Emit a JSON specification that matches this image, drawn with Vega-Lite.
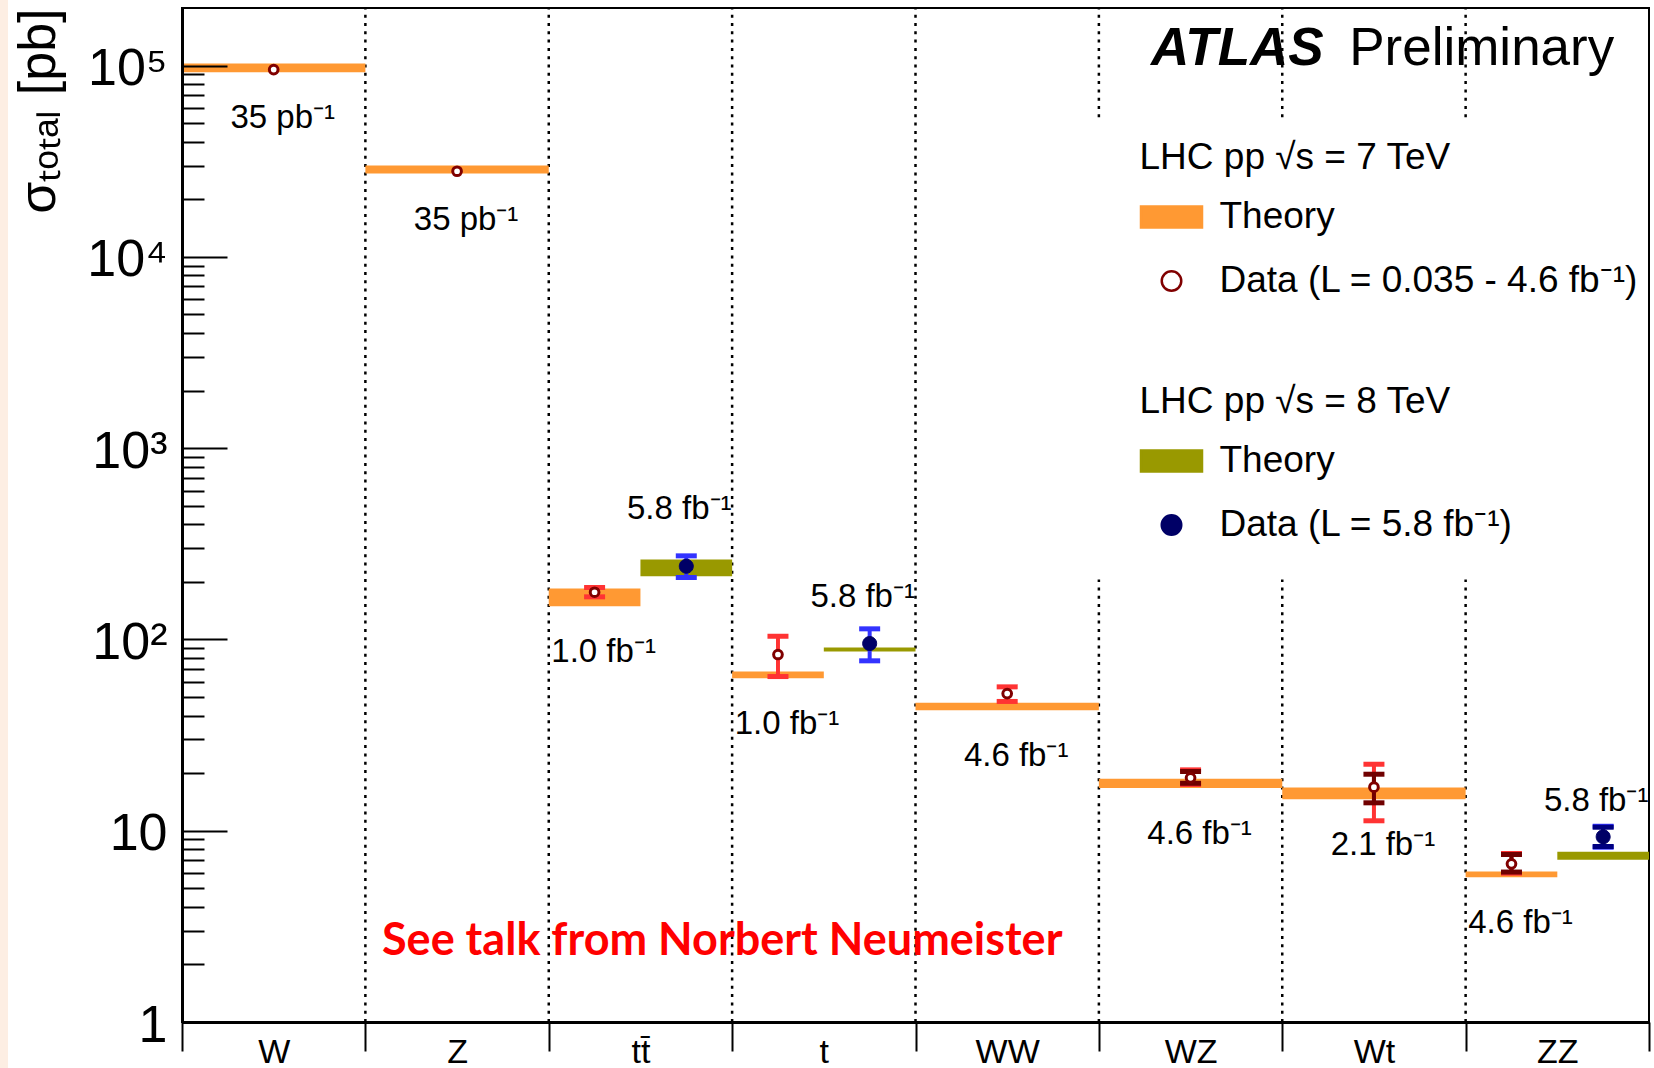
{
  "$schema": "https://vega.github.io/schema/vega-lite/v6.json",
  "width": 1467,
  "height": 1014,
  "autosize": {"type": "none"},
  "padding": {"left": 182, "top": 8, "right": 5, "bottom": 46},
  "background": "white",
  "datasets": {
    "xs": [
      {"proc": "W", "E": 7, "b0": 0, "b1": 1, "bc": 0.5, "th_lo": 92300, "th_hi": 102400, "val": 95300, "stat_lo": null, "stat_hi": null, "tot_lo": null, "tot_hi": null, "lumi": "35 pb⁻¹"},
      {"proc": "Z", "E": 7, "b0": 1, "b1": 2, "bc": 1.5, "th_lo": 27260, "th_hi": 30000, "val": 28030, "stat_lo": null, "stat_hi": null, "tot_lo": null, "tot_hi": null, "lumi": "35 pb⁻¹"},
      {"proc": "tt", "E": 7, "b0": 2, "b1": 2.5, "bc": 2.25, "th_lo": 149.1, "th_hi": 184.5, "val": 176.5, "stat_lo": null, "stat_hi": null, "tot_lo": 167, "tot_hi": 186.8, "lumi": "1.0 fb⁻¹"},
      {"proc": "tt", "E": 8, "b0": 2.5, "b1": 3, "bc": 2.75, "th_lo": 214, "th_hi": 261.7, "val": 241.4, "stat_lo": null, "stat_hi": null, "tot_lo": 210.7, "tot_hi": 273.5, "lumi": "5.8 fb⁻¹"},
      {"proc": "t", "E": 7, "b0": 3, "b1": 3.5, "bc": 3.25, "th_lo": 62.7, "th_hi": 68.0, "val": 83.4, "stat_lo": null, "stat_hi": null, "tot_lo": 63.97, "tot_hi": 103.9, "lumi": "1.0 fb⁻¹"},
      {"proc": "t", "E": 8, "b0": 3.5, "b1": 4, "bc": 3.75, "th_lo": 86.5, "th_hi": 90.7, "val": 95.2, "stat_lo": null, "stat_hi": null, "tot_lo": 77.3, "tot_hi": 113.6, "lumi": "5.8 fb⁻¹"},
      {"proc": "WW", "E": 7, "b0": 4, "b1": 5, "bc": 4.5, "th_lo": 42.7, "th_hi": 46.6, "val": 52.1, "stat_lo": null, "stat_hi": null, "tot_lo": 47.4, "tot_hi": 56.5, "lumi": "4.6 fb⁻¹"},
      {"proc": "WZ", "E": 7, "b0": 5, "b1": 6, "bc": 5.5, "th_lo": 16.7, "th_hi": 18.7, "val": 18.9, "stat_lo": 17.7, "stat_hi": 20.4, "tot_lo": 17.45, "tot_hi": 20.8, "lumi": "4.6 fb⁻¹"},
      {"proc": "Wt", "E": 7, "b0": 6, "b1": 7, "bc": 6.5, "th_lo": 14.6, "th_hi": 16.8, "val": 16.88, "stat_lo": 13.99, "stat_hi": 19.74, "tot_lo": 11.27, "tot_hi": 22.26, "lumi": "2.1 fb⁻¹"},
      {"proc": "ZZ", "E": 7, "b0": 7, "b1": 7.5, "bc": 7.25, "th_lo": 5.71, "th_hi": 6.12, "val": 6.71, "stat_lo": 6.08, "stat_hi": 7.51, "tot_lo": 6.0, "tot_hi": 7.6, "lumi": "4.6 fb⁻¹"},
      {"proc": "ZZ", "E": 8, "b0": 7.5, "b1": 8, "bc": 7.75, "th_lo": 7.05, "th_hi": 7.76, "val": 9.29, "stat_lo": 8.27, "stat_hi": 10.43, "tot_lo": 8.2, "tot_hi": 10.55, "lumi": "5.8 fb⁻¹"}
    ],
    "dividers": [{"d": 1}, {"d": 2}, {"d": 3}, {"d": 4}, {"d": 5}, {"d": 6}, {"d": 7}]
  },
  "data": {"name": "xs"},
  "layer": [
    {
      "data": {"values": [{}]},
      "mark": {"type": "rect", "fill": "#fdeee3"},
      "encoding": {
        "x": {"datum": -0.9925, "type": "quantitative"},
        "x2": {"datum": -0.9489},
        "y": {"datum": 0.5, "type": "quantitative"},
        "y2": {"datum": 250000}
      }
    },
    {
      "data": {"name": "dividers"},
      "mark": {"type": "rule", "stroke": "black", "strokeWidth": 2.5, "strokeDash": [3, 5.3]},
      "encoding": {
        "x": {"field": "d", "type": "quantitative"},
        "y": {"datum": 1, "type": "quantitative"},
        "y2": {"datum": 200000}
      }
    },
    {
      "data": {"values": [{}]},
      "mark": {"type": "rect", "fill": "white"},
      "encoding": {
        "x": {"datum": 4.95, "type": "quantitative"},
        "x2": {"datum": 7.99},
        "y": {"datum": 206, "type": "quantitative"},
        "y2": {"datum": 52900}
      }
    },
    {
      "mark": {"type": "rect"},
      "encoding": {
        "x": {
          "field": "b0", "type": "quantitative",
          "scale": {"domain": [0, 8], "nice": false, "zero": false},
          "axis": {
            "values": [0, 1, 2, 3, 4, 5, 6, 7, 8],
            "labelExpr": "datum.value < 8 ? ['W','Z','tt̄','t','WW','WZ','Wt','ZZ'][datum.value] : ''",
            "labelOffset": 91.7,
            "tickSize": 29, "tickWidth": 2, "tickColor": "black",
            "domain": true, "domainColor": "black", "domainWidth": 3,
            "labelFont": "Liberation Sans", "labelFontSize": 34, "labelColor": "black",
            "labelPadding": -16, "labelBaseline": "top", "labelAlign": "center",
            "labelFlush": false, "labelOverlap": false, "labelBound": false,
            "grid": false, "title": null, "zindex": 1
          }
        },
        "x2": {"field": "b1"},
        "y": {
          "field": "th_lo", "type": "quantitative",
          "scale": {"type": "log", "domain": [1, 200000], "nice": false},
          "axis": {
            "values": [1, 2, 3, 4, 5, 6, 7, 8, 9, 10, 20, 30, 40, 50, 60, 70, 80, 90, 100, 200, 300, 400, 500, 600, 700, 800, 900, 1000, 2000, 3000, 4000, 5000, 6000, 7000, 8000, 9000, 10000, 20000, 30000, 40000, 50000, 60000, 70000, 80000, 90000, 100000],
            "labelExpr": "datum.value == 1 ? '1' : datum.value == 10 ? '10' : datum.value == 100 ? '10²' : datum.value == 1000 ? '10³' : datum.value == 10000 ? '10⁴' : datum.value == 100000 ? '10⁵' : ''",
            "tickSize": {"condition": {"test": "datum.value == 1 || datum.value == 10 || datum.value == 100 || datum.value == 1000 || datum.value == 10000 || datum.value == 100000", "value": -45}, "value": -22},
            "tickWidth": 2, "tickColor": "black",
            "labelPadding": 60, "labelOffset": 3,
            "labelFont": "Liberation Sans", "labelFontSize": 52, "labelColor": "black",
            "labelBaseline": "middle", "labelAlign": "right",
            "labelFlush": false, "labelOverlap": false, "labelBound": false,
            "domain": true, "domainColor": "black", "domainWidth": 3,
            "grid": false, "zindex": 1,
            "title": "σₜₒₜₐₗ [pb]",
            "titleFont": "Liberation Sans", "titleFontSize": 52, "titleFontWeight": "normal", "titleColor": "black",
            "titleX": -128, "titleY": 0, "titleAlign": "right", "titleAngle": -90, "titleBaseline": "alphabetic"
          }
        },
        "y2": {"field": "th_hi"},
        "fill": {"condition": {"test": "datum.E == 8", "value": "#999900"}, "value": "#ff9933"}
      }
    },
    {
      "transform": [{"filter": "isValid(datum.tot_lo)"}],
      "mark": {"type": "rule", "strokeWidth": 4},
      "encoding": {
        "x": {"field": "bc", "type": "quantitative"},
        "y": {"field": "tot_lo", "type": "quantitative"},
        "y2": {"field": "tot_hi"},
        "color": {"condition": {"test": "datum.E == 8", "value": "#3333ff"}, "value": "#ff3333"}
      }
    },
    {
      "transform": [{"filter": "isValid(datum.tot_lo)"}],
      "mark": {"type": "tick", "orient": "horizontal", "size": 21, "thickness": 5, "opacity": 1},
      "encoding": {
        "x": {"field": "bc", "type": "quantitative"},
        "y": {"field": "tot_lo", "type": "quantitative"},
        "color": {"condition": {"test": "datum.E == 8", "value": "#3333ff"}, "value": "#ff3333"}
      }
    },
    {
      "transform": [{"filter": "isValid(datum.tot_hi)"}],
      "mark": {"type": "tick", "orient": "horizontal", "size": 21, "thickness": 5, "opacity": 1},
      "encoding": {
        "x": {"field": "bc", "type": "quantitative"},
        "y": {"field": "tot_hi", "type": "quantitative"},
        "color": {"condition": {"test": "datum.E == 8", "value": "#3333ff"}, "value": "#ff3333"}
      }
    },
    {
      "transform": [{"filter": "isValid(datum.stat_lo)"}],
      "mark": {"type": "rule", "strokeWidth": 4},
      "encoding": {
        "x": {"field": "bc", "type": "quantitative"},
        "y": {"field": "stat_lo", "type": "quantitative"},
        "y2": {"field": "stat_hi"},
        "color": {"condition": {"test": "datum.E == 8", "value": "#000080"}, "value": "#700000"}
      }
    },
    {
      "transform": [{"filter": "isValid(datum.stat_lo)"}],
      "mark": {"type": "tick", "orient": "horizontal", "size": 21, "thickness": 5, "opacity": 1},
      "encoding": {
        "x": {"field": "bc", "type": "quantitative"},
        "y": {"field": "stat_lo", "type": "quantitative"},
        "color": {"condition": {"test": "datum.E == 8", "value": "#000080"}, "value": "#700000"}
      }
    },
    {
      "transform": [{"filter": "isValid(datum.stat_hi)"}],
      "mark": {"type": "tick", "orient": "horizontal", "size": 21, "thickness": 5, "opacity": 1},
      "encoding": {
        "x": {"field": "bc", "type": "quantitative"},
        "y": {"field": "stat_hi", "type": "quantitative"},
        "color": {"condition": {"test": "datum.E == 8", "value": "#000080"}, "value": "#700000"}
      }
    },
    {
      "transform": [{"filter": "datum.E == 7"}],
      "mark": {"type": "point", "filled": true, "opacity": 1, "strokeWidth": 3, "size": 739},
      "encoding": {
        "x": {"field": "bc", "type": "quantitative"},
        "y": {"field": "val", "type": "quantitative"},
        "fill": {
          "datum": "Data (L = 0.035 - 4.6 fb⁻¹)", "type": "nominal",
          "scale": {"domain": ["Theory", "Data (L = 0.035 - 4.6 fb⁻¹)"], "range": ["#ff9933", "#ffffff"]},
          "legend": {"title": "LHC pp √s = 7 TeV", "orient": "none", "legendX": 957.5, "legendY": 132}
        },
        "stroke": {
          "datum": "Data (L = 0.035 - 4.6 fb⁻¹)", "type": "nominal",
          "scale": {"domain": ["Theory", "Data (L = 0.035 - 4.6 fb⁻¹)"], "range": ["#ff9933", "#800000"]},
          "legend": {"title": "LHC pp √s = 7 TeV", "orient": "none", "legendX": 957.5, "legendY": 132}
        },
        "shape": {
          "datum": "Data (L = 0.035 - 4.6 fb⁻¹)", "type": "nominal",
          "scale": {"domain": ["Theory", "Data (L = 0.035 - 4.6 fb⁻¹)"], "range": ["M-1,-0.344H1V0.344H-1Z", "M0.32,0A0.32,0.32,0,1,1,-0.32,0A0.32,0.32,0,1,1,0.32,0Z"]},
          "legend": {"title": "LHC pp √s = 7 TeV", "orient": "none", "legendX": 957.5, "legendY": 132}
        }
      }
    },
    {
      "transform": [{"filter": "datum.E == 8"}],
      "mark": {"type": "point", "filled": true, "opacity": 1, "strokeWidth": 1, "size": 1914},
      "encoding": {
        "x": {"field": "bc", "type": "quantitative"},
        "y": {"field": "val", "type": "quantitative"},
        "fill": {
          "datum": "Data (L = 5.8 fb⁻¹)", "type": "nominal",
          "scale": {"domain": ["Theory", "Data (L = 5.8 fb⁻¹)"], "range": ["#999900", "#000066"]},
          "legend": {"title": "LHC pp √s = 8 TeV", "orient": "none", "legendX": 957.5, "legendY": 376}
        },
        "stroke": {
          "datum": "Data (L = 5.8 fb⁻¹)", "type": "nominal",
          "scale": {"domain": ["Theory", "Data (L = 5.8 fb⁻¹)"], "range": ["#999900", "#000066"]},
          "legend": {"title": "LHC pp √s = 8 TeV", "orient": "none", "legendX": 957.5, "legendY": 376}
        },
        "shape": {
          "datum": "Data (L = 5.8 fb⁻¹)", "type": "nominal",
          "scale": {"domain": ["Theory", "Data (L = 5.8 fb⁻¹)"], "range": ["M-1,-0.344H1V0.344H-1Z", "M0.32,0A0.32,0.32,0,1,1,-0.32,0A0.32,0.32,0,1,1,0.32,0Z"]},
          "legend": {"title": "LHC pp √s = 8 TeV", "orient": "none", "legendX": 957.5, "legendY": 376}
        }
      }
    },
    {
      "transform": [{"filter": "datum.E == 7"}],
      "mark": {"type": "text", "font": "Liberation Sans", "fontSize": 33, "color": "black", "align": "center", "baseline": "alphabetic", "dx": 9, "dy": 56},
      "encoding": {
        "x": {"field": "bc", "type": "quantitative"},
        "y": {"field": "th_lo", "type": "quantitative"},
        "text": {"field": "lumi"}
      }
    },
    {
      "transform": [{"filter": "datum.E == 8"}],
      "mark": {"type": "text", "font": "Liberation Sans", "fontSize": 33, "color": "black", "align": "center", "baseline": "alphabetic", "dx": -7, "dy": -41},
      "encoding": {
        "x": {"field": "bc", "type": "quantitative"},
        "y": {"field": "th_hi", "type": "quantitative"},
        "text": {"field": "lumi"}
      }
    },
    {
      "data": {"values": [{}]},
      "mark": {"type": "text", "text": "ATLAS", "font": "Liberation Sans", "fontSize": 53, "fontWeight": "bold", "fontStyle": "italic", "color": "black", "align": "left", "baseline": "alphabetic"},
      "encoding": {
        "x": {"datum": 5.284, "type": "quantitative"},
        "y": {"datum": 100500, "type": "quantitative"}
      }
    },
    {
      "data": {"values": [{}]},
      "mark": {"type": "text", "text": "Preliminary", "font": "Liberation Sans", "fontSize": 53, "color": "black", "align": "left", "baseline": "alphabetic"},
      "encoding": {
        "x": {"datum": 6.365, "type": "quantitative"},
        "y": {"datum": 100500, "type": "quantitative"}
      }
    },
    {
      "data": {"values": [{}]},
      "mark": {"type": "text", "text": "See talk from Norbert Neumeister", "font": "Lato", "fontSize": 45, "fontWeight": "bold", "color": "#ff0000", "align": "left", "baseline": "alphabetic"},
      "encoding": {
        "x": {"datum": 1.0907, "type": "quantitative"},
        "y": {"datum": 2.25, "type": "quantitative"}
      }
    }
  ],
  "resolve": {"scale": {"fill": "independent", "stroke": "independent", "shape": "independent"}},
  "config": {
    "font": "Liberation Sans",
    "view": {"stroke": "black", "strokeWidth": 2},
    "legend": {
      "titleFont": "Liberation Sans", "titleFontSize": 37, "titleFontWeight": "normal", "titleColor": "black", "titleLimit": 1000, "titlePadding": 8,
      "labelFont": "Liberation Sans", "labelFontSize": 37, "labelColor": "black", "labelLimit": 1000, "labelOffset": 16,
      "symbolSize": 3721, "symbolStrokeWidth": 2.5, "symbolOpacity": 1,
      "rowPadding": 14, "padding": 0
    }
  }
}
